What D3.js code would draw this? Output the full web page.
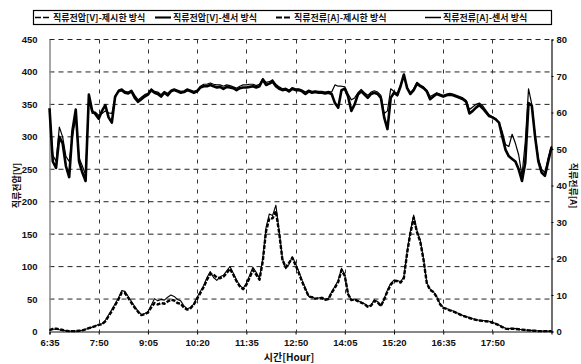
<!DOCTYPE html>
<html>
<head>
<meta charset="utf-8">
<script src="https://cdn.jsdelivr.net/npm/d3@7"></script>
<style>
  html, body { margin: 0; padding: 0; background: #fff; }
  svg { display: block; }
  .num { font-family: "Liberation Sans Narrow", "Liberation Sans", Arial, sans-serif; font-weight: bold; font-size: 9.5px; fill: #111; }
  .kr { font-family: "Noto Sans CJK KR", "Noto Sans", sans-serif; font-weight: bold; fill: #111; }
</style>
</head>
<body>
<svg id="chart" width="581" height="364"></svg>
<script>
// Sampling: one reading every 5 minutes starting at 6:35
const startTime = "6:35";
const stepMinutes = 5;

// X-axis tick labels (every 75 minutes)
const timeTicks = ["6:35", "7:50", "9:05", "10:20", "11:35", "12:50", "14:05", "15:20", "16:35", "17:50"];
const axisEnd = "19:20";

// Left axis (DC voltage, V) and right axis (DC current, A) tick values
const voltTicks = [0, 50, 100, 150, 200, 250, 300, 350, 400, 450];
const ampTicks = [0, 10, 20, 30, 40, 50, 60, 70, 80];

// Series names
const seriesNames = [
  "직류전압[V]-제시한 방식",
  "직류전압[V]-센서 방식",
  "직류전류[A]-제시한 방식",
  "직류전류[A]-센서 방식"
];

// DC voltage, proposed method [V]
const voltProposed = [
  340,272,262,315,300,270,262,300,330,268,
  255,242,360,336,338,333,336,340,337,336,
  360,372,374,370,369,372,364,357,361,365,
  367,374,370,369,365,370,367,372,374,372,
  370,371,374,372,370,372,378,381,381,383,
  381,380,380,378,380,379,377,375,378,380,
  380,381,381,379,381,390,384,385,388,381,
  377,374,375,372,376,374,374,372,369,372,
  370,371,370,370,369,370,369,380,378,378,
  377,366,357,360,368,373,368,364,369,371,
  369,364,336,340,374,370,367,380,392,376,
  368,374,384,380,377,372,362,365,368,366,
  364,366,367,366,364,362,360,356,342,346,
  350,352,348,341,334,331,328,322,308,288,
  285,304,290,272,240,292,374,350,303,266,
  250,245,268,286
];

// DC voltage, sensor method [V]
const voltSensor = [
  344,262,252,300,290,255,238,310,342,262,
  245,232,365,340,335,328,340,349,330,322,
  362,370,372,368,367,370,360,354,358,362,
  365,372,368,366,362,368,364,370,372,370,
  368,369,372,370,368,370,376,378,378,380,
  378,376,377,374,377,376,375,372,375,376,
  376,377,378,376,378,388,380,382,385,378,
  374,372,373,370,374,372,372,370,366,370,
  368,369,368,368,367,368,366,352,345,372,
  374,362,340,350,365,370,365,360,366,368,
  366,360,330,312,360,368,364,378,396,375,
  366,372,382,378,375,370,358,362,366,364,
  362,364,365,364,362,360,358,354,336,340,
  345,349,344,338,332,330,327,322,300,280,
  270,266,262,250,232,260,352,348,300,262,
  245,240,262,284
];

// DC current, proposed method [A]
const ampProposed = [
  0.4,0.7,0.8,0.6,0.4,0.2,0.1,0.1,0.1,0.2,
  0.3,0.6,0.9,1.2,1.5,1.8,2.0,2.8,4.2,5.6,
  7.2,8.8,10.6,10.5,9.2,7.8,6.5,5.4,4.5,4.7,
  5.2,6.6,7.8,7.4,7.8,7.6,8.2,8.7,8.5,7.8,
  7.6,6.5,6.0,6.4,7.4,9.0,10.6,12.2,14.2,15.8,
  15.6,14.8,14.6,15.0,16.0,17.2,15.6,13.8,12.4,11.6,
  12.8,14.8,16.8,15.6,14.2,19.2,27.5,31.0,31.0,33.0,
  27.0,19.6,17.6,18.8,20.2,18.2,16.0,13.6,11.6,9.6,
  9.4,9.0,9.1,9.2,8.7,8.9,10.6,12.0,13.6,16.8,
  15.2,10.2,8.6,8.8,8.3,7.9,7.5,6.8,7.1,8.4,
  8.0,7.0,8.8,11.0,12.8,13.8,13.8,13.4,14.6,21.5,
  27.0,31.2,27.2,24.6,19.6,13.2,11.4,10.8,9.5,7.5,
  6.5,6.2,5.8,5.5,5.1,4.7,4.3,4.0,3.7,3.4,
  3.2,3.0,2.9,2.8,2.7,2.4,2.1,1.7,1.2,0.8,
  0.7,0.8,0.7,0.6,0.5,0.4,0.3,0.2,0.2,0.1,
  0.1,0.1,0.1,0.1
];

// DC current, sensor method [A]
const ampSensor = [
  0.3,0.6,0.7,0.5,0.3,0.2,0.1,0.1,0.1,0.2,
  0.3,0.6,0.9,1.2,1.6,1.9,2.1,3.0,4.5,6.0,
  7.6,9.2,11.2,11.0,9.6,8.2,6.8,5.6,4.6,4.9,
  5.4,7.2,9.0,8.4,8.8,8.6,9.4,10.0,9.6,8.8,
  8.4,7.0,6.2,6.6,7.6,9.4,11.0,12.6,14.8,16.4,
  14.8,14.0,15.0,15.4,16.6,17.8,16.0,14.1,12.6,11.8,
  13.2,15.4,17.6,16.2,14.6,20.0,28.5,32.2,31.8,34.6,
  27.5,20.0,17.2,18.4,20.5,18.6,16.4,14.0,11.8,9.6,
  9.5,9.0,9.2,9.4,8.8,9.0,10.9,12.4,14.0,17.3,
  15.6,10.4,8.6,8.9,8.4,8.0,7.6,6.9,7.2,8.6,
  8.2,7.0,9.0,11.4,13.2,14.1,14.0,13.6,15.0,22.0,
  27.5,31.9,27.6,25.0,20.0,13.4,11.6,10.9,9.6,7.6,
  6.6,6.3,5.9,5.6,5.2,4.8,4.4,4.1,3.8,3.5,
  3.2,3.1,3.0,2.9,2.8,2.5,2.2,1.8,1.3,0.9,
  0.8,0.9,0.8,0.6,0.5,0.4,0.3,0.3,0.2,0.2,
  0.1,0.1,0.1,0.1
];

const toMin = s => { const [h, m] = s.split(":").map(Number); return h * 60 + m; };
const t0 = toMin(startTime);
const sampleTime = i => t0 + i * stepMinutes;

const svg = d3.select("#chart");
const plot = { left: 49.5, right: 551.5, top: 39.5, bottom: 331.5 };

const x = d3.scaleLinear().domain([t0, toMin(axisEnd)]).range([plot.left, plot.right]);
const yV = d3.scaleLinear().domain([0, 450]).range([plot.bottom, plot.top]);
const yA = d3.scaleLinear().domain([0, 80]).range([plot.bottom, plot.top]);

// Grid: dashed horizontal lines on the voltage ticks
svg.append("g")
  .selectAll("line")
  .data(voltTicks.filter(v => v > 0))
  .join("line")
  .attr("x1", plot.left).attr("x2", plot.right)
  .attr("y1", d => yV(d)).attr("y2", d => yV(d))
  .attr("stroke", "#222").attr("stroke-width", 1)
  .attr("stroke-dasharray", "5,4");

// Grid: dashed vertical lines on the time ticks
svg.append("g")
  .selectAll("line")
  .data(timeTicks.slice(1))
  .join("line")
  .attr("x1", d => Math.round(x(toMin(d))) + 0.5).attr("x2", d => Math.round(x(toMin(d))) + 0.5)
  .attr("y1", plot.top).attr("y2", plot.bottom)
  .attr("stroke", "#333").attr("stroke-width", 1)
  .attr("stroke-dasharray", "4,6");

// Axes
const xAxis = d3.axisBottom(x)
  .tickValues(timeTicks.map(toMin))
  .tickFormat((d, i) => timeTicks[i])
  .tickSize(3).tickPadding(5);
const gx = svg.append("g").attr("transform", `translate(0,${plot.bottom})`).call(xAxis);
gx.select(".domain").attr("stroke", "#111").attr("stroke-width", 1.2);
gx.selectAll("text").attr("class", "num").attr("fill", "#111");

const yAxisL = d3.axisLeft(yV).tickValues(voltTicks).tickSize(0).tickPadding(12);
const gl = svg.append("g").attr("transform", `translate(${plot.left},0)`).call(yAxisL);
gl.select(".domain").attr("stroke", "#888").attr("stroke-width", 1.5);
gl.selectAll("text").attr("class", "num");

const yAxisR = d3.axisRight(yA).tickValues(ampTicks).tickSize(2).tickPadding(3);
const gr = svg.append("g").attr("transform", `translate(${plot.right},0)`).call(yAxisR);
gr.select(".domain").attr("stroke", "#111").attr("stroke-width", 1.2);
gr.selectAll("text").attr("class", "num");

// Series lines
const lineV = d3.line().x((d, i) => x(sampleTime(i))).y(d => yV(d));
const lineA = d3.line().x((d, i) => x(sampleTime(i))).y(d => yA(d));

const styles = [
  { w: 1.2, dash: null },
  { w: 2.6, dash: null },
  { w: 2.4, dash: "4,1.5" },
  { w: 1.1, dash: null }
];

const series = [
  { values: voltSensor, gen: lineV, st: styles[1] },
  { values: voltProposed, gen: lineV, st: styles[0] },
  { values: ampProposed, gen: lineA, st: styles[2] },
  { values: ampSensor, gen: lineA, st: styles[3] }
];

svg.append("g")
  .selectAll("path")
  .data(series)
  .join("path")
  .attr("d", d => d.gen(d.values))
  .attr("fill", "none")
  .attr("stroke", "#000")
  .attr("stroke-width", d => d.st.w)
  .attr("stroke-linejoin", "round")
  .attr("stroke-dasharray", d => d.st.dash);

// Axis titles
svg.append("text").attr("class", "kr").attr("font-size", 9)
  .attr("text-anchor", "middle")
  .attr("transform", `translate(17,${(plot.top + plot.bottom) / 2}) rotate(-90)`)
  .attr("dy", "0.35em")
  .text("직류전압[V]");
svg.append("text").attr("class", "kr").attr("font-size", 9)
  .attr("text-anchor", "middle")
  .attr("transform", `translate(573,${(plot.top + plot.bottom) / 2}) rotate(90)`)
  .attr("dy", "0.35em")
  .text("직류전류[A]");
svg.append("text").attr("class", "kr").attr("font-size", 10)
  .attr("text-anchor", "middle")
  .attr("x", 289).attr("y", 361)
  .text("시간[Hour]");

// Legend
const legend = svg.append("g");
legend.append("rect")
  .attr("x", 33.5).attr("y", 10.5).attr("width", 518).attr("height", 14)
  .attr("fill", "#fff").attr("stroke", "#000").attr("stroke-width", 1.2);
const legendX = [35, 155, 276, 425];
seriesNames.forEach((name, i) => {
  const g = legend.append("g").attr("transform", `translate(${legendX[i]},17.5)`);
  g.append("line").attr("x1", 0).attr("x2", 16).attr("y1", 0).attr("y2", 0)
    .attr("stroke", "#000").attr("stroke-width", Math.max(1.5, styles[i].w * 0.8))
    .attr("stroke-dasharray", i === 0 || i === 2 ? "6,2" : null);
  g.append("text").attr("class", "kr").attr("font-size", 9)
    .attr("x", 18).attr("y", 3.5).text(name);
});
</script>
</body>
</html>
